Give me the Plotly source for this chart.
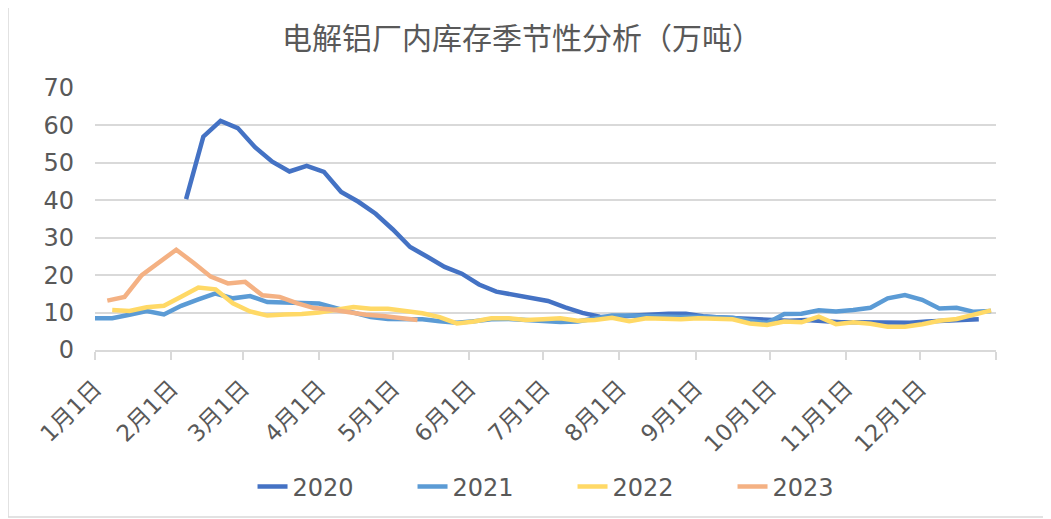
import pandas as pd
import plotly.graph_objects as go

# 周度数据，各年份统一映射到同一个自然年坐标上
years = ["2020", "2021", "2022", "2023"]
start_dates = {"2020": "2020-02-07", "2021": "2020-01-01", "2022": "2020-01-08", "2023": "2020-01-06"}

inv_2020 = [40.3, 57.0, 61.2, 59.3, 54.2, 50.3, 47.7, 49.2, 47.6, 42.2, 39.6, 36.4, 32.2, 27.5, 24.9, 22.2,
            20.4, 17.5, 15.6, 14.7, 13.9, 13.1, 11.4, 9.9, 8.9, 8.8, 9.2, 9.6, 9.7, 9.7, 9.0, 8.7, 8.5, 8.2,
            7.8, 7.8, 8.0, 7.6, 7.4, 7.4, 7.4, 7.3, 7.3, 7.6, 7.8, 7.9, 8.2]
inv_2021 = [8.5, 8.5, 9.4, 10.4, 9.5, 11.8, 13.5, 15.1, 13.8, 14.4, 12.8, 12.6, 12.4, 12.4, 11.2, 10.0, 8.8,
            8.3, 8.2, 8.2, 7.7, 7.3, 7.7, 8.2, 8.3, 8.0, 7.8, 7.5, 7.6, 8.3, 9.2, 9.2, 9.0, 8.8, 8.8, 8.9, 8.7,
            8.6, 7.8, 7.2, 9.6, 9.7, 10.6, 10.3, 10.7, 11.3, 13.8, 14.7, 13.4, 11.1, 11.3, 10.2, 10.4]
inv_2022 = [10.7, 10.4, 11.4, 11.8, 14.2, 16.7, 16.2, 12.5, 10.3, 9.2, 9.5, 9.6, 10.0, 10.8, 11.5, 11.0, 11.0,
            10.4, 9.8, 8.8, 7.1, 7.6, 8.5, 8.5, 8.0, 8.2, 8.5, 7.8, 8.0, 8.6, 7.7, 8.5, 8.2, 8.2, 8.5, 8.3, 8.2,
            7.1, 6.7, 7.6, 7.4, 8.9, 6.9, 7.4, 7.0, 6.2, 6.2, 6.9, 7.8, 8.3, 9.4, 10.6]
inv_2023 = [13.2, 14.2, 20.0, 23.3, 26.8, 23.3, 19.6, 17.8, 18.2, 14.6, 14.2, 12.5, 11.2, 10.8, 10.0, 9.4,
            9.1, 8.6, 8.0]

series = {"2020": inv_2020, "2021": inv_2021, "2022": inv_2022, "2023": inv_2023}
colors = {"2020": "#4472C4", "2021": "#5B9BD5", "2022": "#FFD966", "2023": "#F4B183"}

month_ticks = pd.date_range("2020-01-01", "2021-01-01", freq="MS")
month_labels = [f"{m}月1日" for m in range(1, 13)] + [""]

font_family = "DejaVu Sans, Noto Sans CJK SC"
grey = "#595959"

fig = go.Figure()
for y in years:
    vals = series[y]
    dates = pd.date_range(start_dates[y], periods=len(vals), freq="7D")
    fig.add_trace(go.Scatter(x=dates, y=vals, mode="lines", name=y,
                             line=dict(color=colors[y], width=4.5)))

# 页面 body 默认有 8px 边距，图形整体向右下偏移 8px
fig.update_layout(
    width=1051, height=519,
    margin=dict(l=87, r=63, t=80, b=177),
    paper_bgcolor="white", plot_bgcolor="white",
    font=dict(family=font_family, color=grey),
    title=dict(text="电解铝厂内库存季节性分析（万吨）", x=0.489, xanchor="center",
               y=(519 - 30) / 519, yanchor="middle", yref="container",
               font=dict(family="Noto Sans CJK SC", size=30, color=grey)),
    xaxis=dict(type="date", range=["2020-01-01", "2021-01-01"],
               tickvals=month_ticks, ticktext=month_labels, tickangle=-45,
               tickfont=dict(size=23, color=grey), ticklabelstandoff=6,
               showgrid=False, showline=True, linecolor="#d9d9d9", linewidth=1.5,
               ticks="outside", ticklen=8, tickcolor="#d9d9d9", tickwidth=1.5, automargin=False),
    yaxis=dict(range=[0, 70], dtick=10, tickfont=dict(size=24, color=grey),
               gridcolor="#d9d9d9", gridwidth=1.5, zeroline=False, showline=False,
               ticklabelstandoff=20, automargin=False),
    legend=dict(orientation="h", x=0.53, xanchor="center", y=(350 - 487) / 262, yanchor="middle",
                font=dict(size=24, color=grey), entrywidth=115, entrywidthmode="pixels"),
    shapes=[dict(type="rect", xref="paper", yref="paper",
                 x0=(0 - 87) / 901, x1=(1041 - 87) / 901, y0=(342 - 509) / 262, y1=(342 + 5) / 262,
                 line=dict(color="#d9d9d9", width=1.5), layer="below")],
)

fig.write_html("out.html")
